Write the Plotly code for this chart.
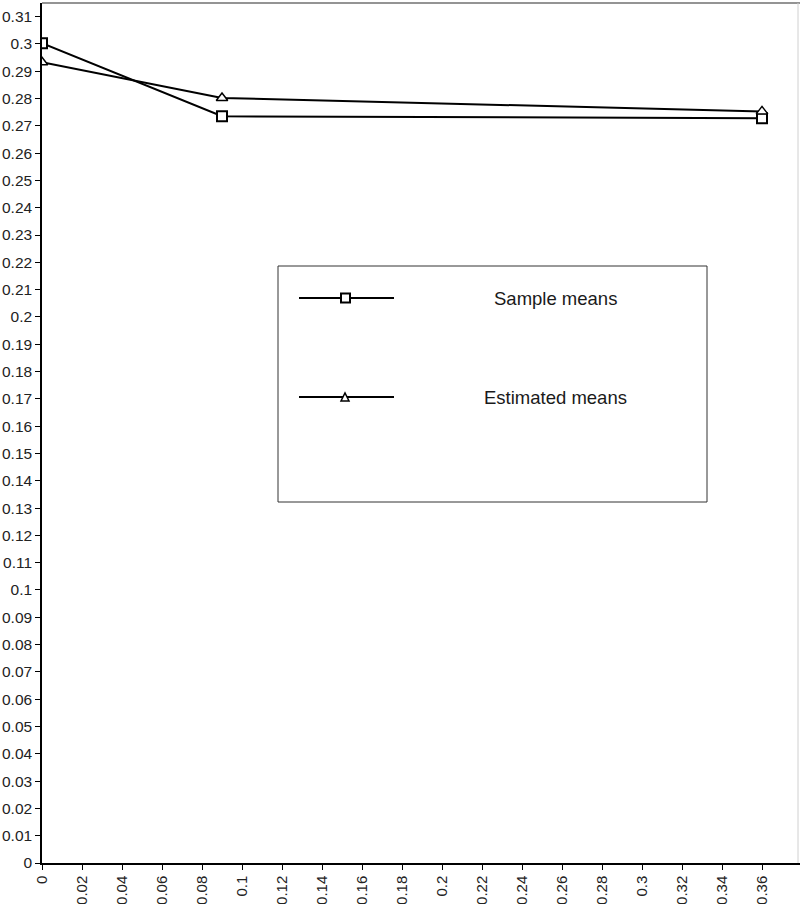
import plotly.graph_objects as go

x_vals = [0.0, 0.09, 0.36]
sample_means = [0.3003, 0.2735, 0.2728]
estimated_means = [0.2933, 0.2802, 0.2753]
series_names = ["Sample means", "Estimated means"]

x_ticks = [round(i * 0.02, 2) for i in range(20)]
x_ticktext = [("%g" % v) for v in x_ticks]
y_ticks = [round(i * 0.01, 2) for i in range(32)]
y_ticktext = [("%g" % v) for v in y_ticks]

FONT = "Liberation Sans, Arial, sans-serif"

fig = go.Figure()
fig.add_trace(go.Scatter(
    x=x_vals, y=sample_means, name=series_names[0], mode="lines+markers",
    line=dict(color="black", width=2),
    marker=dict(symbol="square", size=10, color="white", line=dict(color="black", width=2)),
    showlegend=False,
))
fig.add_trace(go.Scatter(
    x=x_vals, y=estimated_means, name=series_names[1], mode="lines+markers",
    line=dict(color="black", width=2),
    marker=dict(symbol="triangle-up", size=10, color="white", line=dict(color="black", width=1.5)),
    showlegend=False,
))

W, H = 800, 904
L, T, B, R = 42, 3, 41, 0

def px(xp):
    return (xp - L) / (W - L - R)

def py(yp):
    return (H - B - yp) / (H - T - B)

shapes = []
# frame top and right
shapes.append(dict(type="line", xref="paper", yref="paper", x0=0, x1=1, y0=1, y1=1,
                   line=dict(color="#707070", width=1.5)))
shapes.append(dict(type="line", xref="paper", yref="paper", x0=px(798), x1=px(798), y0=0, y1=1,
                   line=dict(color="#d0d0d0", width=1)))
# legend box
shapes.append(dict(type="rect", xref="paper", yref="paper", x0=px(278), x1=px(707), y0=py(502), y1=py(266),
                   line=dict(color="#333333", width=1), fillcolor="white"))
# legend samples
for yy in (298, 397):
    shapes.append(dict(type="line", xref="paper", yref="paper", x0=px(299), x1=px(394), y0=py(yy), y1=py(yy),
                       line=dict(color="black", width=2)))
# square marker
shapes.append(dict(type="rect", xref="paper", yref="paper", x0=px(341), x1=px(350), y0=py(302.5), y1=py(293.5),
                   line=dict(color="black", width=2), fillcolor="white"))
# triangle marker
x0t, y0t = px(341), py(401)
x1t, y1t = px(349), py(401)
xmt, ymt = px(345), py(393)
shapes.append(dict(type="path", xref="paper", yref="paper",
                   path=f"M {x0t} {y0t} L {x1t} {y1t} L {xmt} {ymt} Z",
                   line=dict(color="black", width=1.5), fillcolor="white"))

annotations = [
    dict(xref="paper", yref="paper", x=px(555), y=py(298), text=series_names[0], showarrow=False,
         xanchor="center", yanchor="middle", font=dict(family=FONT, size=18.5, color="#1a1a1a")),
    dict(xref="paper", yref="paper", x=px(555), y=py(397), text=series_names[1], showarrow=False,
         xanchor="center", yanchor="middle", font=dict(family=FONT, size=18.5, color="#1a1a1a")),
]

fig.update_layout(
    width=W, height=H,
    margin=dict(l=L, r=R, t=T, b=B, pad=0, autoexpand=False),
    paper_bgcolor="white", plot_bgcolor="white",
    showlegend=False,
    shapes=shapes, annotations=annotations,
    xaxis=dict(range=[0, 0.379], tickvals=x_ticks, ticktext=x_ticktext, tickangle=-90,
               automargin=False,
               showgrid=False, zeroline=False, showline=True, linecolor="black", linewidth=1.5,
               ticks="outside", ticklen=5, tickcolor="black",
               tickfont=dict(family=FONT, size=15, color="#222222")),
    yaxis=dict(range=[0, 0.315], tickvals=y_ticks, ticktext=y_ticktext,
               automargin=False,
               showgrid=False, zeroline=False, showline=True, linecolor="black", linewidth=1.5,
               ticks="outside", ticklen=5, tickcolor="black",
               tickfont=dict(family=FONT, size=15.5, color="#222222")),
)

fig.write_html("out.html", config={"displayModeBar": False},
               post_script="document.body.style.margin='0';document.body.style.overflow='hidden';")
